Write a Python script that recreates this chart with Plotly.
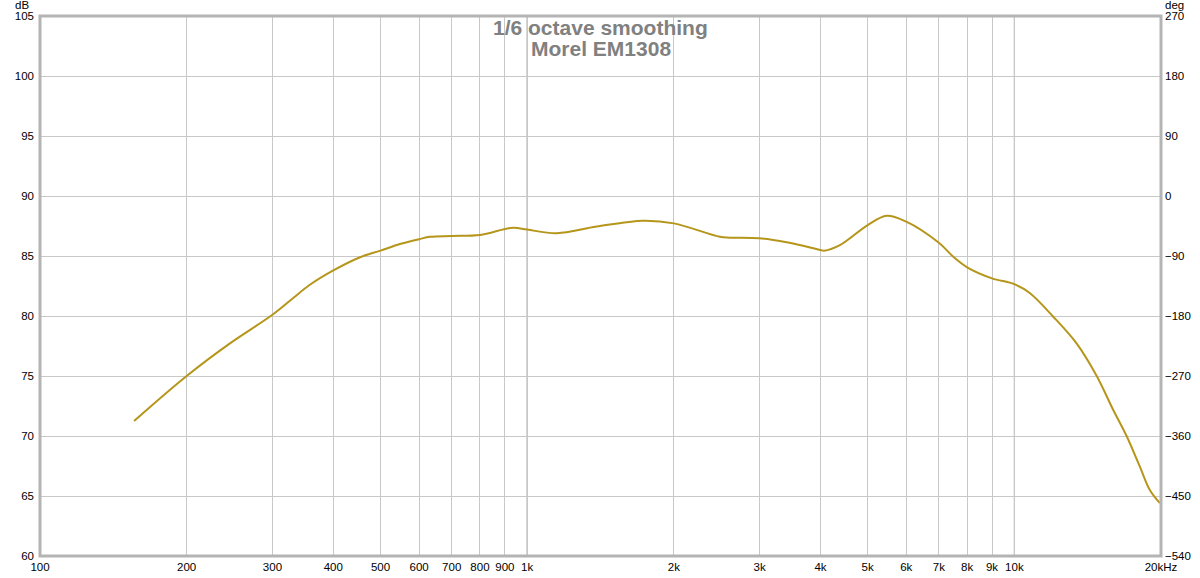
import plotly.graph_objects as go

freq_hz = [156, 200, 245, 300, 331, 358, 400, 454, 500, 548, 600, 632, 700, 800, 935, 1000,
           1150, 1389, 1729, 2000, 2487, 2606, 3000, 3409, 4000, 4070, 4385, 5000,
           5470, 6000, 7000, 7494, 8000, 9000, 10000, 10770, 12020, 13430, 14760,
           15960, 17000, 18100, 18970, 19900]
spl_db = [71.25, 75.0, 77.7, 80.1, 81.5, 82.6, 83.8, 84.9, 85.45, 86.0, 86.4, 86.6, 86.67, 86.75,
          87.36, 87.2, 86.9, 87.45, 87.94, 87.72, 86.6, 86.53, 86.47, 86.14, 85.5,
          85.44, 85.9, 87.58, 88.36, 87.86, 86.1, 84.94, 84.06, 83.14, 82.65, 81.9,
          79.94, 77.7, 75.0, 72.17, 70.0, 67.44, 65.5, 64.4]

x_tickvals = [100, 200, 300, 400, 500, 600, 700, 800, 900, 1000, 2000, 3000, 4000,
              5000, 6000, 7000, 8000, 9000, 10000, 20000]
x_ticktext = ["100", "200", "300", "400", "500", "600", "700", "800", "900", "1k",
              "2k", "3k", "4k", "5k", "6k", "7k", "8k", "9k", "10k", "20kHz"]
y_tickvals = [60, 65, 70, 75, 80, 85, 90, 95, 100, 105]
deg_tickvals = [-540, -450, -360, -270, -180, -90, 0, 90, 180, 270]
title_lines = ["1/6 octave smoothing", "Morel EM1308"]
major_lines = [1000, 10000]

font = "Liberation Sans, Arial, sans-serif"
tick_size = 11.5

fig = go.Figure()
fig.add_trace(go.Scatter(x=freq_hz, y=spl_db, mode="lines",
                         line=dict(color="#b5961b", width=2, shape="spline", smoothing=1.0),
                         showlegend=False, hoverinfo="skip"))
# invisible trace for the right axis
fig.add_trace(go.Scatter(x=[100], y=[0], yaxis="y2", mode="markers",
                         marker=dict(opacity=0), showlegend=False, hoverinfo="skip"))

fig.update_layout(
    width=1200, height=578,
    margin=dict(l=40, r=39, t=16, b=22),
    paper_bgcolor="white", plot_bgcolor="white",
    font=dict(family=font, size=tick_size, color="#000000"),
    xaxis=dict(type="log", range=[2, 4.30103], tickvals=x_tickvals, ticktext=x_ticktext,
               showgrid=True, gridcolor="#c8c8c8", gridwidth=1, zeroline=False,
               showline=False, ticks="", tickfont=dict(size=tick_size), ticklabelstandoff=2,
               automargin=False),
    yaxis=dict(range=[60, 105], tickvals=y_tickvals, showgrid=True, gridcolor="#c8c8c8",
               gridwidth=1, zeroline=False, showline=False, ticks="",
               ticklabelstandoff=5, automargin=False),
    yaxis2=dict(range=[-540, 270], tickvals=deg_tickvals, overlaying="y", side="right",
                showgrid=False, zeroline=False, showline=False, ticks="",
                ticklabelstandoff=3, automargin=False),
)

for xv in major_lines:
    fig.add_shape(type="line", xref="x", yref="paper", x0=xv, x1=xv, y0=0, y1=1,
                  line=dict(color="#858585", width=1), layer="below")

fig.add_shape(type="rect", xref="paper", yref="paper", x0=0, x1=1, y0=0, y1=1,
              line=dict(color="#b4b4b4", width=3))

fig.add_annotation(text=title_lines[0], xref="paper", yref="paper", x=0.5, y=0.9787,
                   yanchor="middle", showarrow=False,
                   font=dict(family=font, size=21, color="#808080", weight="bold"))
fig.add_annotation(text=title_lines[1], xref="paper", yref="paper", x=0.5, y=0.9389,
                   yanchor="middle", showarrow=False,
                   font=dict(family=font, size=21, color="#808080", weight="bold"))
fig.add_annotation(text="dB", xref="paper", yref="paper", x=0, y=1, xanchor="right",
                   yanchor="bottom", xshift=-9, yshift=3, showarrow=False,
                   font=dict(family=font, size=tick_size, color="#000000"))
fig.add_annotation(text="deg", xref="paper", yref="paper", x=1, y=1, xanchor="left",
                   yanchor="bottom", xshift=2, yshift=3, showarrow=False,
                   font=dict(family=font, size=tick_size, color="#000000"))

fig.write_html("out.html", config={"displayModeBar": False},
               post_script="document.body.style.margin='0';document.body.style.padding='0';")
